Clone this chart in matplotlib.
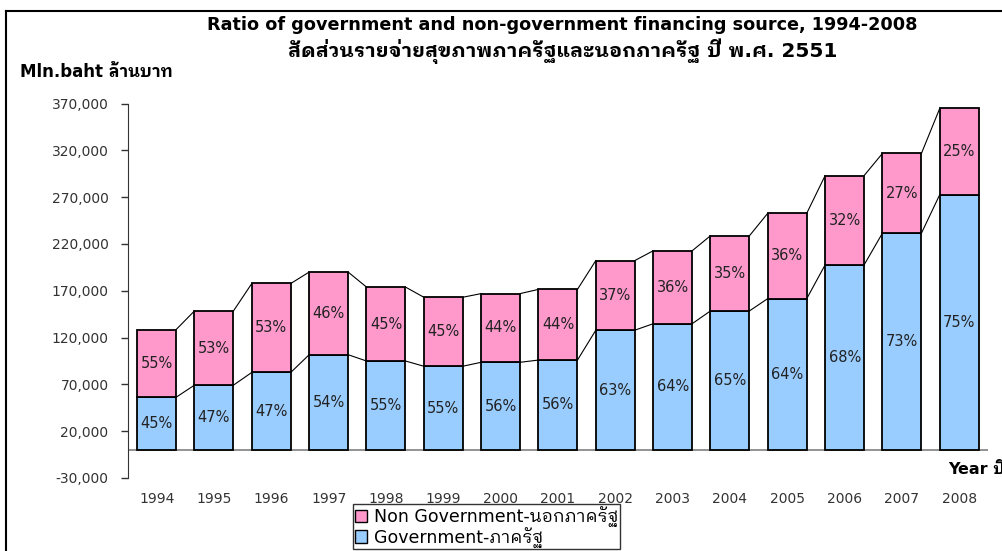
import matplotlib
matplotlib.use("Agg")
import matplotlib.pyplot as plt
from matplotlib.patches import Patch
from matplotlib.ticker import FuncFormatter

# data (million baht)
years = ["1994", "1995", "1996", "1997", "1998", "1999", "2000", "2001",
         "2002", "2003", "2004", "2005", "2006", "2007", "2008"]
gov = [56300, 69200, 82800, 101700, 95000, 89400, 93600, 96000,
       127900, 134800, 148500, 161700, 197700, 231600, 272800]
non_gov = [72300, 79300, 95000, 88300, 79000, 73700, 73400, 75500,
           74400, 77900, 80300, 91200, 95400, 85200, 92200]
gov_pct = [45, 47, 47, 54, 55, 55, 56, 56, 63, 64, 65, 64, 68, 73, 75]
non_pct = [55, 53, 53, 46, 45, 45, 44, 44, 37, 36, 35, 36, 32, 27, 25]

pink = "#FF99CC"
blue = "#99CCFF"
thai = ["DejaVu Sans", "IBM Plex Sans Thai Looped", "Noto Sans Thai Looped"]

fig = plt.figure(figsize=(10.03, 5.51), dpi=100)
ax = fig.add_axes([0.1276, 0.1325, 0.8574, 0.6795])

x = list(range(len(years)))
w = 0.68
ax.bar(x, gov, w, color=blue, edgecolor="black", linewidth=1.3, zorder=3)
ax.bar(x, non_gov, w, bottom=gov, color=pink, edgecolor="black", linewidth=1.3, zorder=3)

# series lines joining the bar tops
totals = [g + n for g, n in zip(gov, non_gov)]
for i in range(len(x) - 1):
    for s in (gov, totals):
        ax.plot([x[i] + w / 2, x[i + 1] - w / 2], [s[i], s[i + 1]],
                color="black", lw=0.8, zorder=2)

for i in x:
    ax.text(i, gov[i] / 2, f"{gov_pct[i]}%", ha="center", va="center",
            fontsize=10.5, color="#222222", zorder=4)
    ax.text(i, gov[i] + non_gov[i] / 2, f"{non_pct[i]}%", ha="center",
            va="center", fontsize=10.5, color="#222222", zorder=4)

ax.axhline(0, color="#808080", lw=1.2, zorder=1)
ax.set_xlim(-0.5, len(years) - 0.5)
ax.set_ylim(-30000, 370000)
ax.set_yticks(range(-30000, 370001, 50000))
ax.yaxis.set_major_formatter(FuncFormatter(lambda v, p: f"{int(v):,}"))
ax.set_xticks(x)
ax.set_xticklabels(years)
ax.tick_params(axis="x", length=0, pad=10, labelsize=10, labelcolor="#333333")
ax.tick_params(axis="y", length=5, width=1, color="#333333", labelsize=10,
               labelcolor="#333333", pad=9)
for side in ("top", "right", "bottom"):
    ax.spines[side].set_visible(False)
ax.spines["left"].set_color("#333333")

fig.text(0.561, 0.945, "Ratio of government and non-government financing source, 1994-2008",
         ha="center", va="baseline", fontsize=12.7, fontweight="bold", family=thai)
fig.text(0.561, 0.897, "สัดส่วนรายจ่ายสุขภาพภาครัฐและนอกภาครัฐ ปี พ.ศ. 2551",
         ha="center", va="baseline", fontsize=14.5, fontweight="bold", family=thai)
fig.text(0.02, 0.869, "Mln.baht ล้านบาท", ha="left", va="center",
         fontsize=12, fontweight="bold", family=thai)
fig.text(0.945, 0.149, "Year ปี", ha="left", va="center",
         fontsize=11.5, fontweight="bold", family=thai)

# outer frame (only top and left edges fall inside the picture)
fig.add_artist(plt.Line2D([0.006, 0.006], [0.0, 0.98], color="black", lw=1.5,
                          transform=fig.transFigure))
fig.add_artist(plt.Line2D([0.006, 1.0], [0.98, 0.98], color="black", lw=1.5,
                          transform=fig.transFigure))

handles = [Patch(facecolor=pink, edgecolor="black", label="Non Government-นอกภาครัฐ"),
           Patch(facecolor=blue, edgecolor="black", label="Government-ภาครัฐ")]
leg = fig.legend(handles=handles, loc="lower left", bbox_to_anchor=(0.352, 0.003),
                 frameon=True, fancybox=False, edgecolor="black",
                 prop={"family": thai, "size": 12.5}, handlelength=0.7,
                 handleheight=0.7, handletextpad=0.4, borderpad=0.1,
                 labelspacing=0.0, borderaxespad=0)
leg.get_frame().set_linewidth(1.0)

fig.savefig("out.png", dpi=100)
